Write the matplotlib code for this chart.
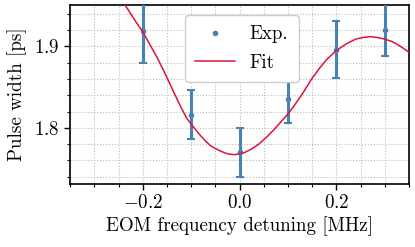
import numpy as np
import matplotlib
matplotlib.use("Agg")
import matplotlib.pyplot as plt
from matplotlib.ticker import MultipleLocator

plt.rcParams['font.family'] = 'cmr10'
plt.rcParams['mathtext.fontset'] = 'cm'
plt.rcParams['axes.formatter.use_mathtext'] = True
plt.rcParams['font.size'] = 13.7

# Experimental data
det_exp = [-0.2, -0.1, 0.0, 0.1, 0.2, 0.3]
width_exp = [1.919, 1.816, 1.770, 1.835, 1.896, 1.920]
width_err = [0.039, 0.030, 0.030, 0.029, 0.035, 0.032]

# Fit curve
det_fit = [-0.245, -0.23, -0.215, -0.2, -0.185, -0.17, -0.155, -0.14, -0.125,
           -0.11, -0.1, -0.09, -0.08, -0.07, -0.06, -0.05, -0.04, -0.03, -0.02,
           -0.01, 0.0, 0.01, 0.025, 0.04, 0.055, 0.07, 0.085, 0.1, 0.115, 0.13,
           0.15, 0.165, 0.18, 0.2, 0.22, 0.24, 0.255, 0.27, 0.285, 0.3, 0.315,
           0.33, 0.35]
width_fit = [1.958, 1.945, 1.931, 1.918, 1.902, 1.886, 1.868, 1.849, 1.830,
             1.8125, 1.8045, 1.797, 1.790, 1.7835, 1.778, 1.7745, 1.7715, 1.769, 1.7675,
             1.767, 1.768, 1.7695, 1.774, 1.780, 1.788, 1.797, 1.807, 1.817, 1.829, 1.842,
             1.861, 1.873, 1.884, 1.895, 1.903, 1.909, 1.911, 1.912, 1.911, 1.909, 1.906,
             1.901, 1.893]

fig = plt.figure(figsize=(4.15, 2.47), dpi=100)
ax = fig.add_axes([0.169, 0.257, 0.8165, 0.723])

ax.errorbar(det_exp, width_exp, yerr=width_err, fmt='none', ecolor='#4682b4',
            elinewidth=2.2, capsize=2.8, capthick=1.5, zorder=3)
ax.plot(det_exp, width_exp, 'o', color='#4682b4', ms=3, label='Exp.', zorder=4)
ax.plot(det_fit, width_fit, '-', color='crimson', lw=1.1, label='Fit', zorder=5)

ax.set_xlim(-0.35, 0.35)
ax.set_ylim(1.7315, 1.951)
ax.xaxis.set_major_locator(MultipleLocator(0.2))
ax.xaxis.set_minor_locator(MultipleLocator(0.05))
ax.yaxis.set_major_locator(MultipleLocator(0.1))
ax.yaxis.set_minor_locator(MultipleLocator(0.02))
ax.grid(True, which='both', color='#bbbbbb', linestyle=':', linewidth=0.8)
ax.set_axisbelow(True)
ax.tick_params(which='major', direction='out', length=4, width=1)
ax.tick_params(which='minor', direction='out', length=2.5, width=0.8)
for s in ax.spines.values():
    s.set_linewidth(1.2)

ax.set_xlabel('EOM frequency detuning [MHz]', labelpad=3)
ax.set_ylabel('Pulse width [ps]', labelpad=5)
ax.legend(loc='upper center', bbox_to_anchor=(0.507, 0.944), borderaxespad=0,
          framealpha=1, edgecolor='#cccccc', fancybox=True, handlelength=2.1,
          borderpad=0.55, labelspacing=0.55, handletextpad=0.75)

fig.savefig('out.png', dpi=100)
